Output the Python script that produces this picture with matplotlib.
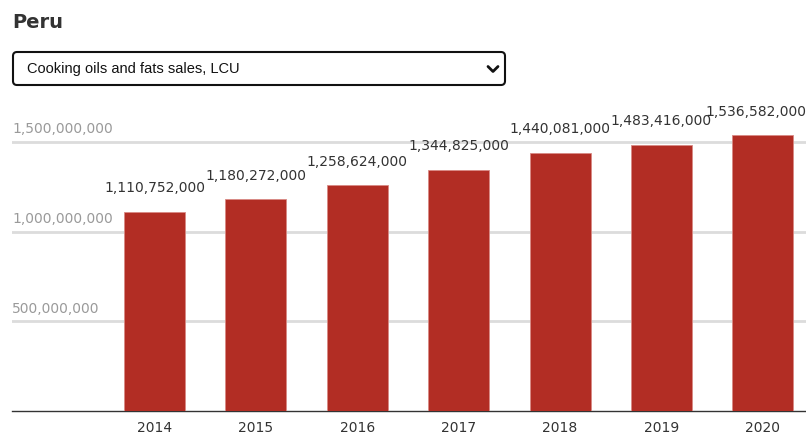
import matplotlib.pyplot as plt
from matplotlib.patches import FancyBboxPatch

years = ['2014', '2015', '2016', '2017', '2018', '2019', '2020']
sales = [1110752000, 1180272000, 1258624000, 1344825000, 1440081000, 1483416000, 1536582000]
grid_ticks = [500000000, 1000000000, 1500000000]

W, H = 806, 437
fig = plt.figure(figsize=(W / 100, H / 100), dpi=100)

# chart area in pixel terms
left, right, base, top = 12, 806, 411, 124
ax = fig.add_axes([left / W, 1 - base / H, (right - left) / W, (base - top) / H])

x = list(range(len(years)))
bars = ax.bar(x, sales, width=0.6, color='#b22d24', edgecolor='#d98a84', linewidth=0.6, zorder=3)

ax.set_xlim(-1.405, 6.425)
ax.set_ylim(0, 1.6e9)

for t in grid_ticks:
    ax.axhline(t, color='#dcdcdc', linewidth=2, zorder=1)
    ax.annotate(f'{t:,}', xy=(0, t), xycoords=('axes fraction', 'data'),
                xytext=(0, 4), textcoords='offset points',
                ha='left', va='bottom', fontsize=10, color='#9a9a9a')

for xi, v in zip(x, sales):
    # keep the last label inside the right edge
    dx = -5 if xi == x[-1] else 0
    ax.annotate(f'{v:,}', xy=(xi, v), xytext=(dx, 12), textcoords='offset points',
                ha='center', va='bottom', fontsize=10, color='#333333', zorder=4,
                annotation_clip=False)

ax.set_xticks(x)
ax.set_xticklabels(years, fontsize=10, color='#333333')
ax.tick_params(axis='x', length=0, pad=7)
ax.set_yticks([])
for side in ['top', 'right', 'left']:
    ax.spines[side].set_visible(False)
ax.spines['bottom'].set_color('#333333')
ax.spines['bottom'].set_linewidth(1)

# header: title and selector box, drawn in pixel coordinates
hdr = fig.add_axes([0, 0, 1, 1], zorder=5)
hdr.set_xlim(0, W)
hdr.set_ylim(H, 0)
hdr.axis('off')
hdr.patch.set_alpha(0)

hdr.text(12, 23, 'Peru', fontsize=14, fontweight='bold', color='#333333', va='center', ha='left')

box = FancyBboxPatch((13, 52), 492, 33, boxstyle='round,pad=0,rounding_size=4',
                     facecolor='white', edgecolor='#111111', linewidth=1.5)
hdr.add_patch(box)
hdr.text(27, 69, 'Cooking oils and fats sales, LCU', fontsize=10.5, family='Liberation Sans',
         color='#111111', va='center', ha='left')
hdr.plot([488, 493, 498], [66.5, 71.5, 66.5], color='#111111', linewidth=2, solid_capstyle='round')

fig.savefig('out.png', dpi=100)
